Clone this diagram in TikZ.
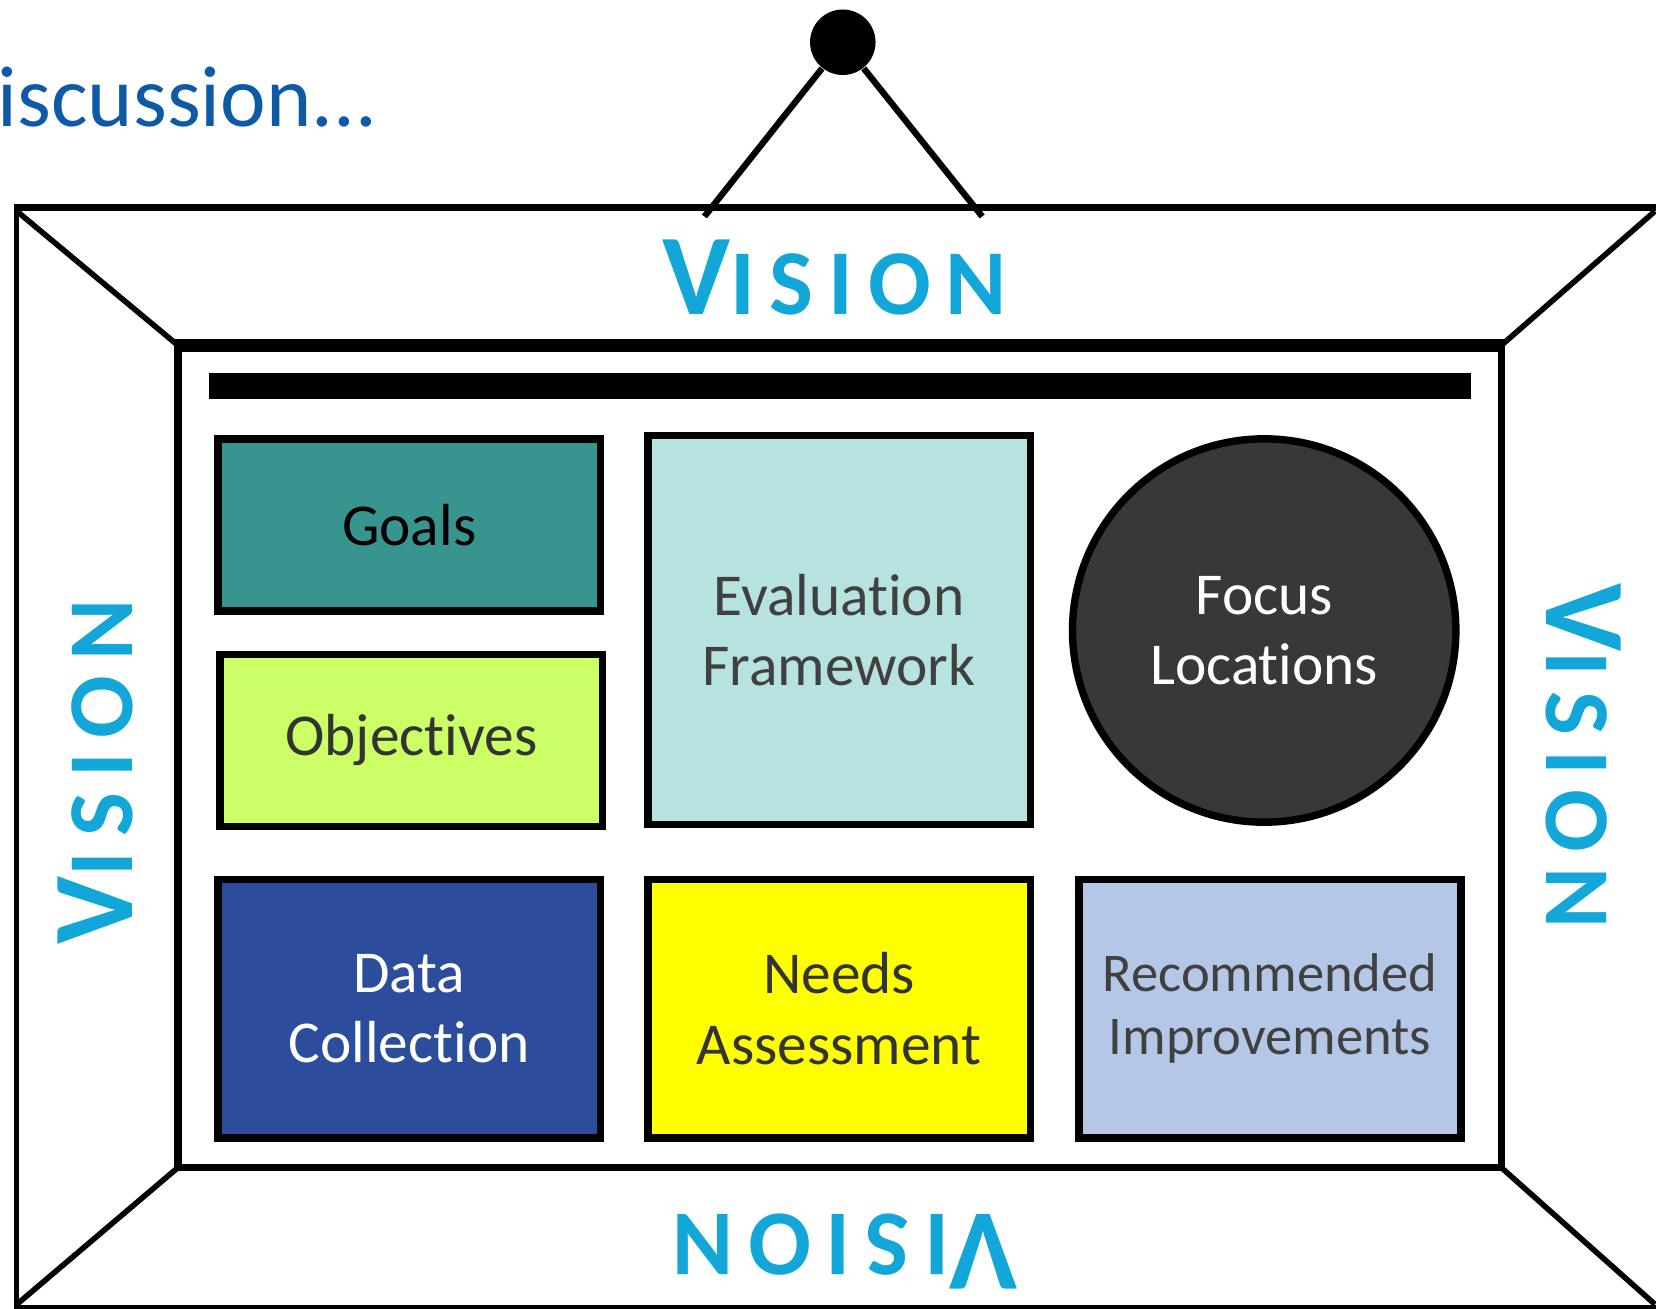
\documentclass[tikz,border=0pt]{standalone}
\usepackage{fontspec}
\setmainfont{Carlito}[Ligatures=CommonOff]
\newfontfamily\visionfont[LetterSpace=16]{Carlito}
\definecolor{discblue}{HTML}{0F5AA6}
\definecolor{visionblue}{HTML}{13A6D9}
\definecolor{goalteal}{HTML}{38948F}
\definecolor{objlime}{HTML}{CCFF66}
\definecolor{evalaqua}{HTML}{B6E3E0}
\definecolor{focusgray}{HTML}{383838}
\definecolor{datablue}{HTML}{2C4C9C}
\definecolor{needsyellow}{HTML}{FFFF00}
\definecolor{recblue}{HTML}{B4C7E7}
\definecolor{darkink}{HTML}{333333}
\definecolor{grayink}{HTML}{404040}
\newcommand{\visionword}{{\visionfont\bfseries\fontsize{31}{31}\selectfont V\fontsize{25}{25}\selectfont ISION}}
\begin{document}
\begin{tikzpicture}[card/.style={draw,line width=2pt,inner sep=0pt,align=center,font=\fontsize{16}{19}\selectfont},
        vision/.style={text=visionblue,inner sep=0pt}]
    \clip (0,0) rectangle (15.68,-12.39);
    \node [anchor=base west,inner sep=0pt,text=discblue,font=\fontsize{23.3}{28}\selectfont] (disc) at (-0.03,-1.20) {iscussion...};
    \coordinate (otl) at (0.16,-2.0);
    \coordinate (otr) at (15.67,-2.0);
    \coordinate (obl) at (0.16,-12.35);
    \coordinate (obr) at (15.67,-12.35);
    \draw [line width=1.4pt] (15.75,-1.965) -| (0.155,-12.38) -- (15.75,-12.38);
    \draw [line width=1.9pt] (0.13,-1.965) -- (15.75,-1.965);
    \node [draw,line width=2pt,outer sep=0pt,minimum width=12.53cm,minimum height=7.785cm] (board) at (7.95,-7.1625) {};
    \draw [line width=3.4pt] ([xshift=-1pt]board.north west) -- ([xshift=1pt]board.north east);
    \draw [line width=1.5pt] (otl) -- (board.north west);
    \draw [line width=1.5pt] (otr) -- (board.north east);
    \draw [line width=1.5pt] (obl) -- (board.south west);
    \draw [line width=1.5pt] (obr) -- (board.south east);
    \fill (1.98,-3.53) rectangle (13.93,-3.78);
    \coordinate (hookl) at (6.67,-2.05);
    \coordinate (hookr) at (9.30,-2.05);
    \node [circle,fill,minimum size=0.62cm,inner sep=0pt] (knob) at (7.98,-0.40) {};
    \draw [line width=1.7pt] (hookl) -- (knob);
    \draw [line width=1.7pt] (hookr) -- (knob);
    \node [vision] (vtop) at (7.90,-2.63) {\visionword};
    \node [vision,rotate=90] (vleft) at (0.90,-7.31) {\visionword};
    \node [vision,rotate=-90] (vright) at (14.99,-7.16) {\visionword};
    \node [vision,rotate=180] (vbottom) at (8.00,-11.85) {\visionword};
    \node [card,fill=goalteal,minimum width=3.62cm,minimum height=1.63cm] (goals) at (3.875,-4.97) {Goals};
    \node [card,fill=objlime,text=darkink,minimum width=3.62cm,minimum height=1.63cm] (objectives) at (3.895,-7.01) {Objectives};
    \node [card,fill=evalaqua,text=grayink,minimum width=3.62cm,minimum height=3.68cm] (evaluation) at (7.945,-5.965) {Evaluation\\Framework};
    \node [card,circle,fill=focusgray,text=white,minimum size=3.63cm] (focus) at (11.97,-5.97) {Focus\\Locations};
    \node [card,fill=datablue,text=white,minimum width=3.62cm,minimum height=2.45cm] (data) at (3.875,-9.55) {Data\\Collection};
    \node [card,fill=needsyellow,text=darkink,minimum width=3.62cm,minimum height=2.45cm] (needs) at (7.945,-9.55) {Needs\\Assessment};
    \node [card,fill=recblue,text=grayink,font=\fontsize{14.7}{17}\selectfont,minimum width=3.62cm,minimum height=2.45cm] (improvements) at (12.025,-9.55) {Recommended\\Improvements};
\end{tikzpicture}
\end{document}
